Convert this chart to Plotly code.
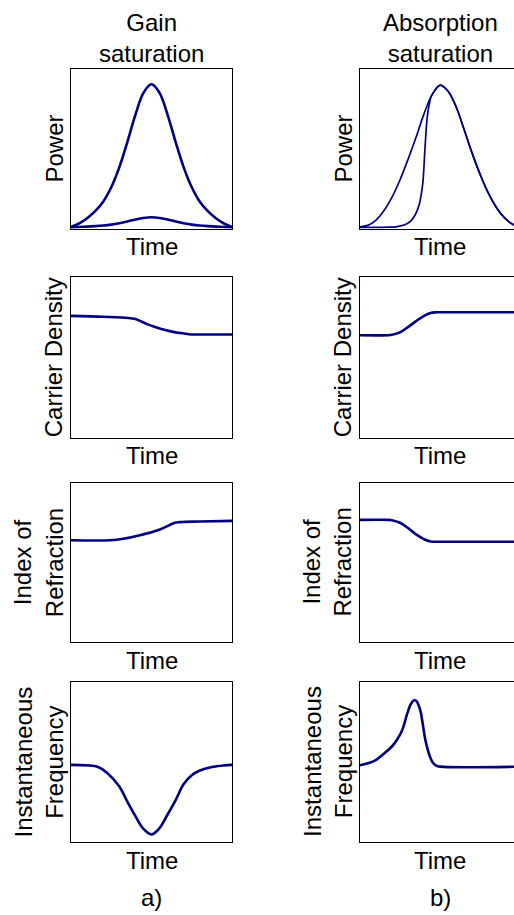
import plotly.graph_objects as go

W, H = 514, 915

# ---------------- data (normalised time, normalised level) ----------------
col_titles = ["Gain<br>saturation", "Absorption<br>saturation"]
row_ylabels = ["Power", "Carrier Density", "Index of<br>Refraction", "Instantaneous<br>Frequency"]
x_label = "Time"
panel_tags = ["a)", "b)"]

# Column a) gain saturation
t_gain_power = [-1.0, -0.9, -0.8, -0.7, -0.6, -0.5, -0.4, -0.3, -0.2, -0.1, 0.0,
                0.1, 0.2, 0.3, 0.4, 0.5, 0.6, 0.7, 0.8, 0.9, 1.0]
gain_power_out = [0.004, 0.025, 0.058, 0.103, 0.163, 0.254, 0.38, 0.54, 0.712, 0.851, 0.905,
                  0.851, 0.712, 0.54, 0.38, 0.254, 0.163, 0.103, 0.058, 0.025, 0.004]
gain_power_in = [0.001, 0.003, 0.005, 0.008, 0.012, 0.018, 0.027, 0.038, 0.050, 0.060, 0.064,
                 0.060, 0.050, 0.038, 0.027, 0.018, 0.012, 0.008, 0.005, 0.003, 0.001]

t_gain_carrier = [-1.0, -0.6, -0.29, -0.2, -0.144, -0.05, 0.063, 0.17, 0.27, 0.4, 0.497, 0.6, 1.0]
gain_carrier = [0.758, 0.752, 0.745, 0.738, 0.727, 0.705, 0.686, 0.670, 0.658, 0.648, 0.642, 0.642, 0.642]

t_gain_index = [-1.0, -0.516, -0.35, -0.144, 0.104, 0.29, 0.35, 0.6, 1.0]
gain_index = [0.639, 0.639, 0.648, 0.67, 0.706, 0.748, 0.752, 0.756, 0.76]

t_gain_freq = [-1.0, -0.8, -0.67, -0.55, -0.4, -0.3, -0.2, -0.1, 0.0,
               0.1, 0.2, 0.3, 0.4, 0.5, 0.6, 0.75, 0.9, 1.0]
gain_freq = [0.48, 0.477, 0.468, 0.43, 0.345, 0.25, 0.16, 0.08, 0.045,
             0.085, 0.17, 0.26, 0.36, 0.415, 0.445, 0.467, 0.477, 0.48]

# Column b) absorption saturation
t_abs_power_out = [-1.0, -0.9, -0.8, -0.7, -0.6, -0.5, -0.4, -0.3, -0.2, -0.1, 0.0,
                   0.1, 0.2, 0.3, 0.4, 0.5, 0.6, 0.7, 0.8, 0.9, 1.0]
abs_power_out = [0.004, 0.013, 0.045, 0.105, 0.19, 0.30, 0.43, 0.57, 0.72, 0.84, 0.90,
                 0.86, 0.76, 0.615, 0.465, 0.33, 0.215, 0.125, 0.06, 0.02, 0.005]
t_abs_power_in = [-1.0, -0.7, -0.55, -0.49, -0.42, -0.366, -0.31, -0.263, -0.235, -0.214,
                  -0.189, -0.16, -0.118, -0.1, 0.0, 0.1, 0.2, 0.3, 0.4, 0.5, 0.6, 0.7, 0.8, 0.9, 1.0]
abs_power_in = [0.0, 0.001, 0.004, 0.01, 0.022, 0.04, 0.08, 0.14, 0.21, 0.29,
                0.50, 0.70, 0.82, 0.84, 0.90, 0.86, 0.76, 0.615, 0.465, 0.33, 0.215, 0.125, 0.06, 0.02, 0.005]

t_abs_carrier = [-1.0, -0.64, -0.6, -0.5, -0.4, -0.3, -0.2, -0.12, -0.05, 0.0, 1.0]
abs_carrier = [0.6375, 0.6375, 0.64, 0.655, 0.688, 0.725, 0.758, 0.776, 0.78, 0.78, 0.78]

t_abs_index = [-1.0, -0.64, -0.6, -0.5, -0.4, -0.3, -0.2, -0.12, -0.05, 0.0, 1.0]
abs_index = [0.766, 0.766, 0.764, 0.748, 0.715, 0.675, 0.645, 0.631, 0.629, 0.629, 0.629]

t_abs_freq = [-1.0, -0.9, -0.8, -0.7, -0.6, -0.533, -0.47, -0.41, -0.37, -0.34, -0.317,
              -0.295, -0.27, -0.242, -0.215, -0.19, -0.16, -0.13, -0.095, -0.05, 0.0, 1.0]
abs_freq = [0.478, 0.49, 0.51, 0.55, 0.595, 0.64, 0.70, 0.80, 0.855, 0.878, 0.886,
            0.878, 0.855, 0.81, 0.73, 0.65, 0.585, 0.535, 0.497, 0.475, 0.469, 0.469]

# ---------------- layout geometry (pixels) ----------------
row_boxes = [(69.3, 228.7), (277.0, 437.5), (482.5, 642.3), (681.7, 841.7)]
col_boxes = [(71.0, 232.0), (359.7, 514.0)]
full_right_width = 161.0
NAVY = "#000080"
FONT = dict(family="Liberation Sans, Arial, sans-serif", size=24, color="black")


def fx(px):
    return px / W


def fy(py):
    return 1 - py / H


series = [
    # (row, col, [(t, v, width), ...])
    (0, 0, [(t_gain_power, gain_power_out, 2.6), (t_gain_power, gain_power_in, 2.6)]),
    (1, 0, [(t_gain_carrier, gain_carrier, 2.6)]),
    (2, 0, [(t_gain_index, gain_index, 2.6)]),
    (3, 0, [(t_gain_freq, gain_freq, 2.6)]),
    (0, 1, [(t_abs_power_out, abs_power_out, 1.7), (t_abs_power_in, abs_power_in, 1.7)]),
    (1, 1, [(t_abs_carrier, abs_carrier, 2.6)]),
    (2, 1, [(t_abs_index, abs_index, 2.6)]),
    (3, 1, [(t_abs_freq, abs_freq, 2.6)]),
]

fig = go.Figure()
layout = dict(
    width=W, height=H,
    margin=dict(l=0, r=0, t=0, b=0),
    paper_bgcolor="white", plot_bgcolor="white",
    showlegend=False,
    font=FONT,
)

for k, (r, c, lines) in enumerate(series):
    n = k + 1
    xa = "xaxis" if n == 1 else f"xaxis{n}"
    ya = "yaxis" if n == 1 else f"yaxis{n}"
    xr = "x" if n == 1 else f"x{n}"
    yr = "y" if n == 1 else f"y{n}"
    x0, x1 = col_boxes[c]
    y0, y1 = row_boxes[r]
    if c == 0:
        xrange = [-1, 1]
    else:
        xrange = [-1, -1 + 2 * (x1 - x0) / full_right_width]
    yrange = [-0.008, 1] if r == 0 else [0, 1]
    layout[xa] = dict(domain=[fx(x0), fx(x1)], range=xrange, anchor=yr,
                      showline=True, mirror=True, linecolor="black", linewidth=1.3,
                      showticklabels=False, ticks="", showgrid=False, zeroline=False)
    layout[ya] = dict(domain=[fy(y1), fy(y0)], range=yrange, anchor=xr,
                      showline=True, mirror=(c == 0), linecolor="black", linewidth=1.3,
                      showticklabels=False, ticks="", showgrid=False, zeroline=False)
    for (t, v, w) in lines:
        fig.add_trace(go.Scatter(x=t, y=v, xaxis=xr, yaxis=yr, mode="lines",
                                 line=dict(color=NAVY, width=w, shape="spline", smoothing=1.0),
                                 hoverinfo="skip"))

annotations = []
col_centers = [151.5, 440.0]
title_y = 37.5
time_y = [246, 455, 660, 860]
ylabel_x = [[53.5, 342.5], [53.0, 342.0], [38.8, 327.2], [38.8, 327.2]]
row_centers = [(a + b) / 2 for a, b in row_boxes]

for c in range(2):
    annotations.append(dict(text=col_titles[c], x=fx(col_centers[c]), y=fy(title_y),
                            xref="paper", yref="paper", xanchor="center", yanchor="middle",
                            showarrow=False, font=FONT))
    annotations.append(dict(text=panel_tags[c], x=fx(col_centers[c]), y=fy(897),
                            xref="paper", yref="paper", xanchor="center", yanchor="middle",
                            showarrow=False, font=FONT))
    for r in range(4):
        annotations.append(dict(text=x_label, x=fx(col_centers[c]), y=fy(time_y[r]),
                                xref="paper", yref="paper", xanchor="center", yanchor="middle",
                                showarrow=False, font=FONT))
        annotations.append(dict(text=row_ylabels[r], x=fx(ylabel_x[r][c]), y=fy(row_centers[r]),
                                xref="paper", yref="paper", xanchor="center", yanchor="middle",
                                textangle=-90, showarrow=False, font=FONT))

layout["annotations"] = annotations
fig.update_layout(**layout)
fig.write_html("out.html", config={"displayModeBar": False})
